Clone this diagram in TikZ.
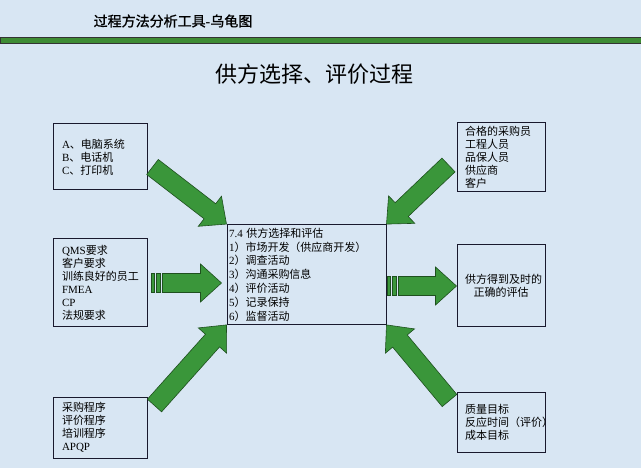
\documentclass[tikz,border=0pt]{standalone}
\usepackage{fontspec}
\setmainfont{Liberation Serif}
\newfontfamily\cjk{Noto Sans CJK SC}
\newfontfamily\cjkbold[FakeBold=1.2]{Noto Sans CJK SC}
\usetikzlibrary{calc, positioning}
\definecolor{bgblue}{RGB}{216,230,243}
\definecolor{arrowgreen}{RGB}{58,150,58}
\definecolor{arrowedge}{RGB}{30,80,30}
\definecolor{bargreen}{RGB}{62,140,52}
\definecolor{boxedge}{RGB}{25,25,45}
\newcommand{\en}[1]{{\rmfamily #1}}
\tikzstyle{sidebox} = [rectangle, draw=boxedge, line width=1pt, align=left, font=\cjk\fontsize{11}{13}\selectfont]
\tikzstyle{inbox} = [sidebox, text width=76pt, inner xsep=9pt]
\tikzstyle{outbox} = [sidebox, text width=72pt, inner xsep=8pt]
\tikzstyle{procbox} = [sidebox, text width=155pt, inner xsep=2pt, font=\cjk\fontsize{11}{13.8}\selectfont]
\tikzstyle{arrowfill} = [fill=arrowgreen, draw=arrowedge, line width=0.6pt, line join=miter]
% block arrow: tail, tip
\newcommand{\bigarrow}[2]{%
  \coordinate (neck) at ($(#2)!21pt!(#1)$);
  \filldraw[arrowfill] ($(#1)!9.5pt!90:(#2)$) -- ($(neck)!9.5pt!90:(#2)$) -- ($(neck)!19pt!90:(#2)$) -- (#2)
    -- ($(neck)!19pt!-90:(#2)$) -- ($(neck)!9.5pt!-90:(#2)$) -- ($(#1)!9.5pt!-90:(#2)$) -- cycle;}
\newcommand{\armpiece}[3]{%
  \filldraw[arrowfill] ($(#1)!9.5pt!90:(#3)$) -- ($(#2)!9.5pt!-90:(#1)$) -- ($(#2)!9.5pt!90:(#1)$) -- ($(#1)!9.5pt!-90:(#3)$) -- cycle;}
\newcommand{\stripedarrow}[2]{%
  \coordinate (sa) at ($(#1)!3pt!(#2)$);
  \coordinate (sb) at ($(#1)!5pt!(#2)$);
  \coordinate (sc) at ($(#1)!9pt!(#2)$);
  \coordinate (sd) at ($(#1)!11pt!(#2)$);
  \armpiece{#1}{sa}{#2}
  \armpiece{sb}{sc}{#2}
  \bigarrow{sd}{#2}}

\begin{document}
\begin{tikzpicture}[x=1pt, y=-1pt]
    \fill[bgblue] (0,0) rectangle (641,468);
    \useasboundingbox (0,0) rectangle (641,468);

    % Header
    \node (head) at (173,21) {\cjkbold\fontsize{14}{16}\selectfont 过程方法分析工具\en{\textbf{-}}乌龟图};
    \draw[fill=bargreen, draw=black!80, line width=0.8pt] (0,37) rectangle (641,43);
    \node (title) at (314,74) {\cjk\fontsize{22}{24}\selectfont 供方选择、评价过程};

    % Nodes
    \node (proc) [procbox, minimum height=93pt] at (306.5,274.5) {\en{7.4} 供方选择和评估\\\en{1}）市场开发（供应商开发）\\\en{2}）调查活动\\\en{3}）沟通采购信息\\\en{4}）评价活动\\\en{5}）记录保持\\\en{6}）监督活动};
    \node (equip) [inbox, minimum height=66pt] at (100,157) {\en{A}、电脑系统\\\en{B}、电话机\\\en{C}、打印机};
    \node (ctrl) [inbox, minimum height=88pt] at (100,283) {\en{QMS}要求\\客户要求\\训练良好的员工\\\en{FMEA}\\\en{CP}\\法规要求};
    \node (method) [inbox, minimum height=61pt] at (100,427.5) {采购程序\\评价程序\\培训程序\\\en{APQP}};
    \node (staff) [outbox, minimum height=66pt] at (501,157) {合格的采购员\\工程人员\\品保人员\\供应商\\客户};
    \node (result) [outbox, minimum height=82pt, align=center] at (501,286) {供方得到及时的\\正确的评估};
    \node (measure) [outbox, minimum height=60pt] at (501,422) {质量目标\\反应时间（评价）\\成本目标};

    % Arrows
    \coordinate (tl) at ($(equip.east)+(5,10)$);
    \coordinate (tr) at ($(staff.west)+(-8,8)$);
    \coordinate (bl) at ($(method.north east)+(7,9)$);
    \coordinate (br) at ($(measure.north west)+(-7,9)$);
    \coordinate (ml) at ($(ctrl.east)+(4,0)$);
    \coordinate (mlend) at ($(proc.west |- ctrl.east)+(-5,0)$);
    \coordinate (mr) at ($(proc.east |- result.west)+(1,0)$);
    \bigarrow{tl}{proc.north west}
    \bigarrow{tr}{proc.north east}
    \bigarrow{bl}{proc.south west}
    \bigarrow{br}{proc.south east}
    \stripedarrow{ml}{mlend}
    \stripedarrow{mr}{result.west}
\end{tikzpicture}
\end{document}
